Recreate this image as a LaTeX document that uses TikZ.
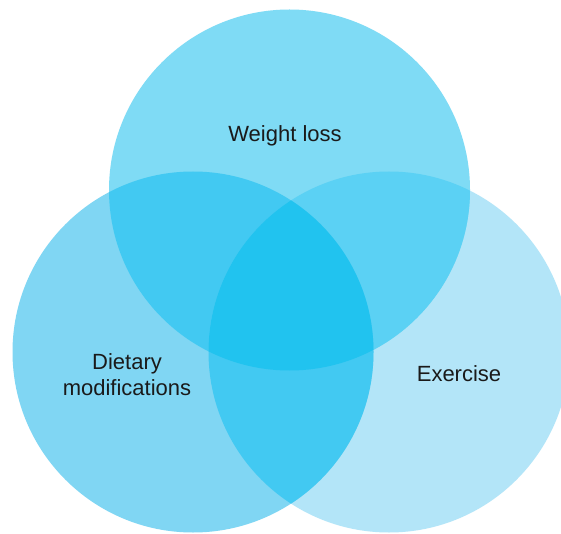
\documentclass[tikz,border=0pt]{standalone}
\usepackage{fontspec}
\setmainfont{Liberation Sans}
\definecolor{ctop}{HTML}{7FDBF5}
\definecolor{cleft}{HTML}{80D6F3}
\definecolor{cright}{HTML}{B3E5F8}
\definecolor{ctl}{HTML}{42C9F2}
\definecolor{ctr}{HTML}{5BD1F4}
\definecolor{clr}{HTML}{42C9F2}
\definecolor{call}{HTML}{21C3EF}
\definecolor{txt}{HTML}{1A1A1A}
\begin{document}
\begin{tikzpicture}[x=1pt,y=-1pt,
  lbl/.style={text=txt,font=\fontsize{22}{26}\selectfont,align=center,inner sep=0pt}]
\useasboundingbox (0,0) rectangle (561,534);
\fill[white] (0,0) rectangle (561,534);
\def\T{(289.5,190) circle[radius=180.5]}
\def\L{(193,352) circle[radius=180.5]}
\def\R{(389,352) circle[radius=180.5]}
\fill[cright] \R;
\fill[cleft] \L;
\fill[ctop] \T;
\begin{scope}\clip \T; \fill[ctl] \L; \end{scope}
\begin{scope}\clip \T; \fill[ctr] \R; \end{scope}
\begin{scope}\clip \L; \fill[clr] \R; \end{scope}
\begin{scope}\clip \T; \clip \L; \fill[call] \R; \end{scope}
\node[lbl] (wl) at (285,136) {Weight loss};
\node[lbl] (dm) at (127,375) {Dietary\\modifications};
\node[lbl] (ex) at (459,374) {Exercise};
\end{tikzpicture}
\end{document}
